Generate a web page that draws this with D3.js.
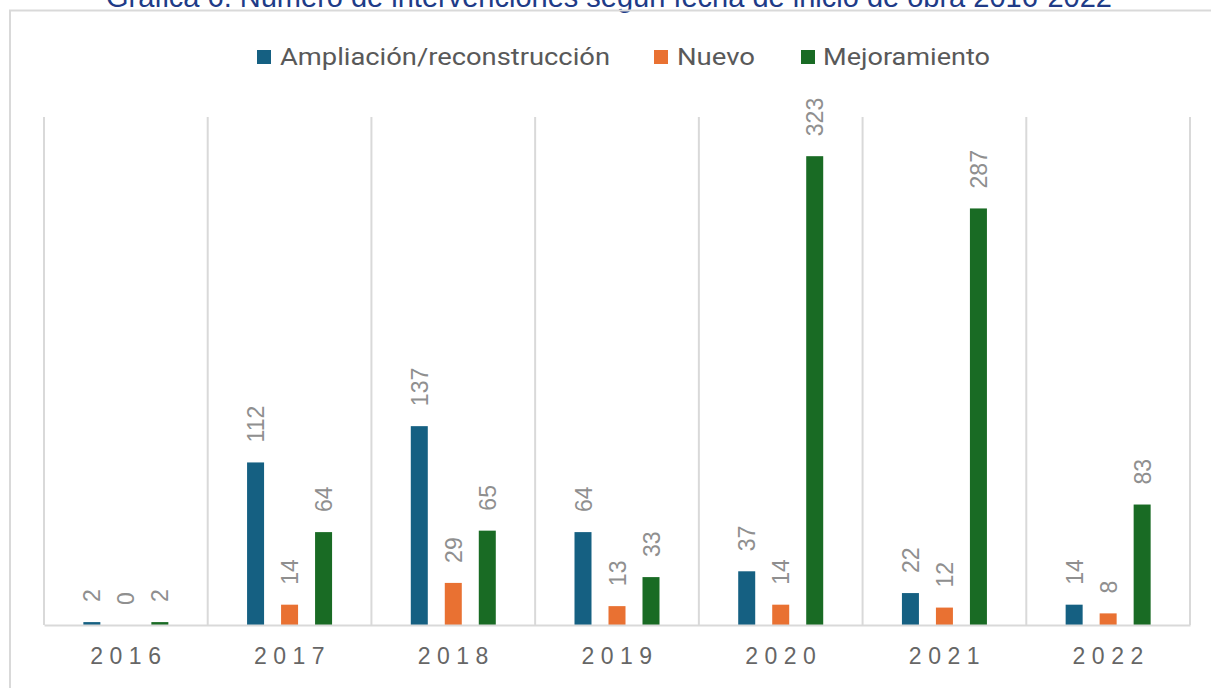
<!DOCTYPE html>
<html><head><meta charset="utf-8">
<script src="https://cdn.jsdelivr.net/npm/d3@7"></script>
<style>body{margin:0;background:#fff;}svg{display:block;}</style>
</head><body>
<svg id="c" width="1211" height="688"></svg>
<script>
const years = ["2016","2017","2018","2019","2020","2021","2022"];
const seriesNames = ["Ampliación/reconstrucción","Nuevo","Mejoramiento"];
const ampliacion = [2,112,137,64,37,22,14];
const nuevo = [0,14,29,13,14,12,8];
const mejoramiento = [2,64,65,33,323,287,83];
const colors = ["#156082","#E97132","#196B24"];
const title = "Gráfica 6. Número de intervenciones según fecha de inicio de obra 2016-2022";

const svg = d3.select("#c");
const m = {left:44, right:1190, top:117, bottom:625};
const font = "Liberation Sans, Arial, sans-serif";

// title (cut off at top, as in the reference)
svg.append("text").attr("x", 609).attr("y", 7).attr("text-anchor","middle")
  .attr("font-family",font).attr("font-size",29)
  .attr("fill","#203b87").text(title);
// chart border
svg.append("rect").attr("x",10).attr("y",10.5).attr("width",1230).attr("height",700)
  .attr("fill","none").attr("stroke","#d9d9d9").attr("stroke-width",2);

const x0 = d3.scaleBand().domain(years).range([m.left, m.right]).padding(0);
const x1 = d3.scaleBand().domain(seriesNames).range([x0.bandwidth()/2 - 51, x0.bandwidth()/2 + 51]).paddingInner(0.5).paddingOuter(0.25);
const y = d3.scaleLinear().domain([0,350]).range([m.bottom, m.top]);

// vertical separators
const seps = years.map(d => x0(d)).concat([m.right]);
svg.append("g").selectAll("line").data(seps).join("line")
  .attr("x1", d=>d).attr("x2", d=>d).attr("y1", m.top).attr("y2", m.bottom)
  .attr("stroke","#d9d9d9").attr("stroke-width",2);

const data = [ampliacion, nuevo, mejoramiento];
const g = svg.append("g");
years.forEach((yr, i) => {
  seriesNames.forEach((s, j) => {
    const v = data[j][i];
    const bx = x0(yr) + x1(s);
    g.append("rect").attr("x", bx).attr("width", x1.bandwidth())
      .attr("y", y(v)).attr("height", m.bottom - y(v)).attr("fill", colors[j]);
    const tx = bx + x1.bandwidth()/2 + 8.5, ty = y(v) - 20;
    g.append("text").attr("transform", `translate(${tx},${ty}) rotate(-90)`)
      .attr("font-family",font).attr("font-size",23)
      .attr("fill","#8f8f8f").attr("text-anchor","start").text(v);
  });
});

// x axis
const xa = svg.append("g").attr("transform",`translate(0,${m.bottom})`)
  .call(d3.axisBottom(x0).tickSize(0).tickPadding(23));
xa.select(".domain").attr("stroke","#d9d9d9").attr("stroke-width",2);
xa.selectAll("text").attr("font-family",font)
  .attr("font-size",23).attr("fill","#666666").attr("letter-spacing","6.5px").attr("dx","3");

// legend
const leg = [{x:257, tx:280, w:330}, {x:654, tx:677, w:78}, {x:801, tx:823, w:167}];
seriesNames.forEach((s, j) => {
  svg.append("rect").attr("x", leg[j].x).attr("y", 50).attr("width",14).attr("height",14).attr("fill",colors[j]);
  svg.append("text").attr("x", leg[j].tx).attr("y", 65)
    .attr("font-family","Roboto, sans-serif").attr("font-size",24).attr("fill","#595959")
    .attr("textLength", leg[j].w).attr("lengthAdjust","spacingAndGlyphs").text(s);
});
</script>
</body></html>
